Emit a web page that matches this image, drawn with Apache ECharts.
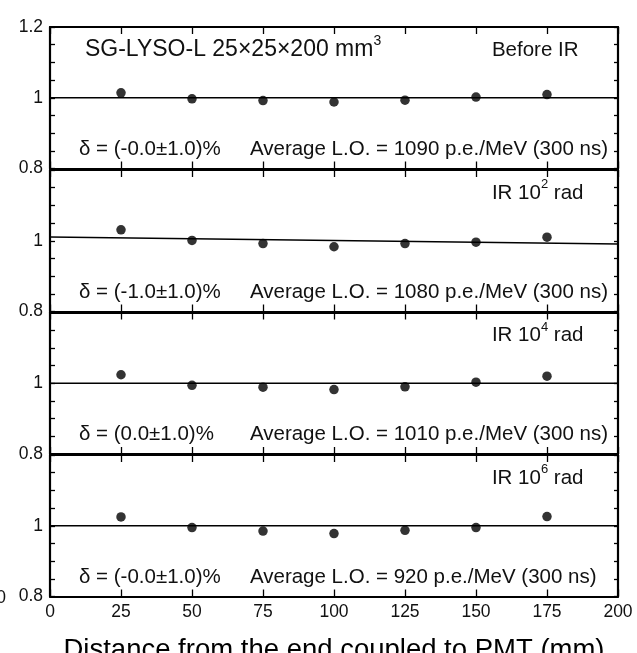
<!DOCTYPE html>
<html><head><meta charset="utf-8">
<script src="https://cdn.jsdelivr.net/npm/echarts@6/dist/echarts.min.js"></script>
<style>html,body{margin:0;padding:0;background:#fff}#c{width:637px;height:653px}</style>
</head><body><div id="c"></div>
<script>
// ---- data ----
const positions = [25, 50, 75, 100, 125, 150, 175];
const beforeIR = [1.014, 0.997, 0.992, 0.988, 0.993, 1.002, 1.009];
const ir1e2 = [1.031, 1.001, 0.992, 0.983, 0.992, 0.996, 1.010];
const ir1e4 = [1.024, 0.994, 0.989, 0.982, 0.990, 1.003, 1.020];
const ir1e6 = [1.025, 0.995, 0.985, 0.978, 0.987, 0.995, 1.026];
const fitX = [0, 200];
const fitBefore = [1.000, 1.000];
const fit1e2 = [1.0104, 0.9907];
const fit1e4 = [1.000, 1.000];
const fit1e6 = [1.000, 1.000];
const panelLabels = [['Before IR', ''], ['IR 10', '2'], ['IR 10', '4'], ['IR 10', '6']];
const deltaTexts = ['δ = (-0.0±1.0)%', 'δ = (-1.0±1.0)%', 'δ = (0.0±1.0)%', 'δ = (-0.0±1.0)%'];
const loTexts = ['Average L.O. = 1090 p.e./MeV (300 ns)', 'Average L.O. = 1080 p.e./MeV (300 ns)',
                 'Average L.O. = 1010 p.e./MeV (300 ns)', 'Average L.O. = 920 p.e./MeV (300 ns)'];
const xTicks = [0, 25, 50, 75, 100, 125, 150, 175, 200];
const yLabelVals = [0.8, 1, 1.2];
const xTitle = 'Distance from the end coupled to PMT (mm)';

const panels = [beforeIR, ir1e2, ir1e4, ir1e6];
const fits = [fitBefore, fit1e2, fit1e4, fit1e6];

const FONT = '"Liberation Sans", Arial, sans-serif';
const tops = [27, 170, 312.5, 455];
const H = 141.5;
const TICKFS = 17.5;

const chart = echarts.init(document.getElementById('c'), null, {renderer: 'canvas'});
const grid = [], xAxis = [], yAxis = [], series = [];
const lineStyle = {color: '#000', width: 2.2};
tops.forEach((t, i) => {
  grid.push({left: 50, right: 19, top: t, height: H, containLabel: false, outerBoundsMode: 'none'});
  const last = i === 3;
  xAxis.push({type: 'value', gridIndex: i, min: 0, max: 200, interval: 25, position: 'bottom',
    axisLine: {show: true, onZero: false, lineStyle},
    axisTick: {show: true, inside: true, length: 7, lineStyle: {color: '#000', width: 1.3}},
    axisLabel: {show: last, color: '#111', fontSize: TICKFS, fontFamily: FONT, margin: 7,
      formatter: v => xTicks.includes(v) ? String(v) : ''},
    splitLine: {show: false},
    name: last ? xTitle : '', nameLocation: 'middle', nameGap: 40,
    nameTextStyle: {fontSize: 27.5, color: '#000', fontFamily: FONT}});
  xAxis.push({type: 'value', gridIndex: i, min: 0, max: 200, interval: 25, position: 'top',
    axisLine: {show: true, onZero: false, lineStyle},
    axisTick: {show: true, inside: true, length: 7, lineStyle: {color: '#000', width: 1.3}},
    axisLabel: {show: false}, splitLine: {show: false}});
  yAxis.push({type: 'value', gridIndex: i, min: 0.8, max: 1.2, interval: 0.05, position: 'left',
    axisLine: {show: true, onZero: false, lineStyle},
    axisTick: {show: true, inside: true, length: 5, lineStyle: {color: '#000', width: 1.3}},
    axisLabel: {show: true, color: '#111', fontSize: TICKFS, fontFamily: FONT, margin: 7,
      showMinLabel: true, showMaxLabel: true,
      formatter: v => {
        for (const l of yLabelVals) {
          if (Math.abs(v - l) < 1e-6) {
            if (l === 1.2 && i !== 0) return '';
            return String(l);
          }
        }
        return '';
      }},
    splitLine: {show: false}});
  yAxis.push({type: 'value', gridIndex: i, min: 0.8, max: 1.2, interval: 0.05, position: 'right',
    axisLine: {show: true, onZero: false, lineStyle},
    axisTick: {show: true, inside: true, length: 4, lineStyle: {color: '#000', width: 1.3}},
    axisLabel: {show: false}, splitLine: {show: false}});
  series.push({type: 'line', xAxisIndex: 2 * i, yAxisIndex: 2 * i, showSymbol: false, silent: true,
    data: fitX.map((x, k) => [x, fits[i][k]]),
    lineStyle: {color: '#000', width: 1.4}, animation: false, z: 3});
  series.push({type: 'scatter', xAxisIndex: 2 * i, yAxisIndex: 2 * i, symbol: 'circle', symbolSize: 9.5,
    data: positions.map((x, k) => [x, panels[i][k]]),
    itemStyle: {color: '#000'}, animation: false, z: 4});
});

chart.setOption({animation: false, backgroundColor: '#fff', grid, xAxis, yAxis, series});

function px(i, x, y) { return chart.convertToPixel({xAxisIndex: 2 * i, yAxisIndex: 2 * i}, [x, y]); }
const g = [];
const ANNFS = 20.5;
const baseStyle = {fill: '#111', fontFamily: FONT, fontSize: ANNFS, verticalAlign: 'middle', align: 'left'};
// title
{
  const p = px(0, 12.3, 1.142);
  g.push({type: 'text', x: p[0], y: p[1], style: Object.assign({}, baseStyle, {
    text: '{m|SG-LYSO-L 25×25×200 mm}{s|3}', fontSize: 23,
    rich: {m: {fontSize: 23, fontFamily: FONT, color: '#111', verticalAlign: 'bottom', lineHeight: 27},
           s: {fontSize: 14, fontFamily: FONT, color: '#111', verticalAlign: 'top', lineHeight: 27}}})});
}
for (let i = 0; i < 4; i++) {
  const p1 = px(i, 155.6, 1.141);
  g.push({type: 'text', x: p1[0], y: p1[1], style: Object.assign({}, baseStyle, {
    text: '{m|' + panelLabels[i][0] + '}' + (panelLabels[i][1] ? '{s|' + panelLabels[i][1] + '}{m| rad}' : ''),
    rich: {m: {fontSize: ANNFS, fontFamily: FONT, color: '#111', verticalAlign: 'bottom', lineHeight: 25},
           s: {fontSize: 13, fontFamily: FONT, color: '#111', verticalAlign: 'top', lineHeight: 25}}})});
  const p2 = px(i, 10.2, 0.855);
  g.push({type: 'text', x: p2[0], y: p2[1], style: Object.assign({}, baseStyle, {text: deltaTexts[i]})});
  const p3 = px(i, 70.4, 0.855);
  g.push({type: 'text', x: p3[0], y: p3[1], style: Object.assign({}, baseStyle, {text: loTexts[i]})});
}
// stray clipped label at the left edge of the original figure
{
  const p = px(3, 0, 0.8);
  g.push({type: 'text', x: 6, y: p[1] + 2, style: {text: '0', fill: '#111', fontFamily: FONT, fontSize: TICKFS, align: 'right', verticalAlign: 'middle'}});
}
chart.setOption({graphic: g});
</script></body></html>
